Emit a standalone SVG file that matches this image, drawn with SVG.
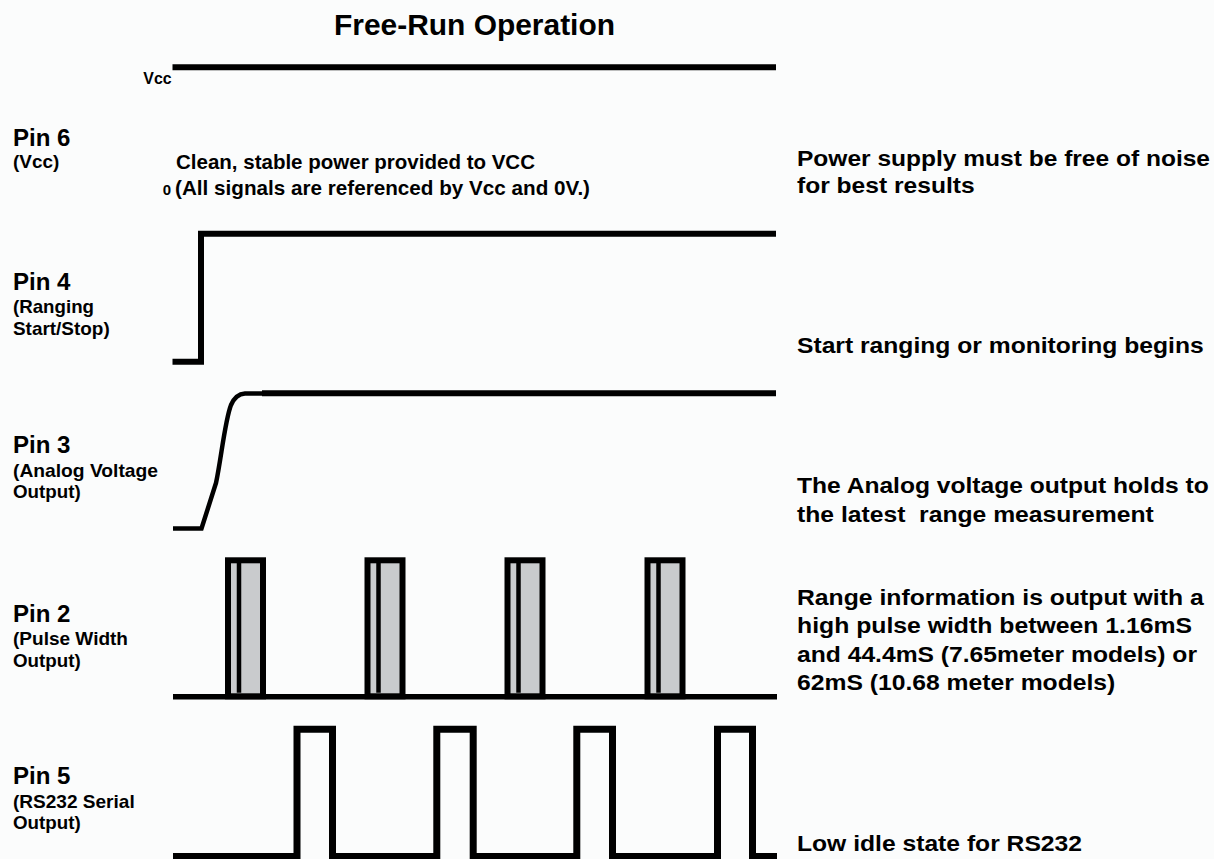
<svg xmlns="http://www.w3.org/2000/svg" width="1214" height="859" viewBox="0 0 1214 859">
<style>
text{font-family:"Liberation Sans",Arial,sans-serif;font-weight:bold;fill:#000}
.title{font-size:29px}
.pin{font-size:23px}
.sub{font-size:19px}
.note{font-size:22px}
.mid{font-size:20.5px}
.wave{fill:none;stroke:#000;stroke-width:6;stroke-linejoin:miter;stroke-linecap:butt}
.pulse{fill:#c9cbcd;stroke:#000;stroke-width:6}
.bar{stroke:#000;stroke-width:4.5}
</style>
<defs>
<g id="pw">
<rect class="pulse" x="3" y="3.3" width="35" height="136"/>
<line class="bar" x1="14" y1="6" x2="14" y2="135.7"/>
</g>
</defs>
<rect width="1214" height="859" fill="#fbfcfc"/>
<g id="title"><text class="title" x="334" y="34.5" textLength="281" lengthAdjust="spacingAndGlyphs">Free-Run Operation</text></g>

<g id="pin6">
<text class="pin" x="13" y="146" textLength="57.5" lengthAdjust="spacingAndGlyphs">Pin 6</text>
<text class="sub" x="13" y="168.3" textLength="46.3" lengthAdjust="spacingAndGlyphs">(Vcc)</text>
<text x="143.3" y="84.3" style="font-size:16px" textLength="28.3" lengthAdjust="spacingAndGlyphs">Vcc</text>
<text x="162.7" y="195" style="font-size:15px">0</text>
<text class="mid" x="176" y="169.3" textLength="359" lengthAdjust="spacingAndGlyphs">Clean, stable power provided to VCC</text>
<text class="mid" x="175" y="195" textLength="415" lengthAdjust="spacingAndGlyphs">(All signals are referenced by Vcc and 0V.)</text>
<text class="note" x="797" y="166" textLength="413" lengthAdjust="spacingAndGlyphs">Power supply must be free of noise</text>
<text class="note" x="797" y="193.3" textLength="177.6" lengthAdjust="spacingAndGlyphs">for best results</text>
</g>

<g id="pin4">
<text class="pin" x="13" y="290" textLength="57.5" lengthAdjust="spacingAndGlyphs">Pin 4</text>
<text class="sub" x="13" y="313.3" textLength="81" lengthAdjust="spacingAndGlyphs">(Ranging</text>
<text class="sub" x="13" y="335" textLength="96.7" lengthAdjust="spacingAndGlyphs">Start/Stop)</text>
<text class="note" x="797" y="353.3" textLength="406.7" lengthAdjust="spacingAndGlyphs">Start ranging or monitoring begins</text>
</g>

<g id="pin3">
<text class="pin" x="13" y="453.3" textLength="57.5" lengthAdjust="spacingAndGlyphs">Pin 3</text>
<text class="sub" x="13" y="476.7" textLength="145" lengthAdjust="spacingAndGlyphs">(Analog Voltage</text>
<text class="sub" x="13" y="498.3" textLength="67.7" lengthAdjust="spacingAndGlyphs">Output)</text>
<text class="note" x="797" y="493.3" textLength="411.7" lengthAdjust="spacingAndGlyphs">The Analog voltage output holds to</text>
<text class="note" x="797" y="521.7" textLength="356.7" lengthAdjust="spacingAndGlyphs" style="white-space:pre">the latest  range measurement</text>
</g>

<g id="pin2">
<text class="pin" x="13" y="621.7" textLength="57.5" lengthAdjust="spacingAndGlyphs">Pin 2</text>
<text class="sub" x="13" y="645" textLength="115" lengthAdjust="spacingAndGlyphs">(Pulse Width</text>
<text class="sub" x="13" y="666.7" textLength="67.7" lengthAdjust="spacingAndGlyphs">Output)</text>
<text class="note" x="797" y="605" textLength="406.7" lengthAdjust="spacingAndGlyphs">Range information is output with a</text>
<text class="note" x="797" y="633.3" textLength="395" lengthAdjust="spacingAndGlyphs">high pulse width between 1.16mS</text>
<text class="note" x="797" y="661.7" textLength="400" lengthAdjust="spacingAndGlyphs">and 44.4mS (7.65meter models) or</text>
<text class="note" x="797" y="690" textLength="318.3" lengthAdjust="spacingAndGlyphs">62mS (10.68 meter models)</text>
</g>

<g id="pin5">
<text class="pin" x="13" y="784.3" textLength="57.5" lengthAdjust="spacingAndGlyphs">Pin 5</text>
<text class="sub" x="13" y="807.7" textLength="121.7" lengthAdjust="spacingAndGlyphs">(RS232 Serial</text>
<text class="sub" x="13" y="829.3" textLength="67.7" lengthAdjust="spacingAndGlyphs">Output)</text>
<text class="note" x="797" y="851" textLength="285" lengthAdjust="spacingAndGlyphs">Low idle state for RS232</text>
</g>

<g id="connectors">
<line class="wave" x1="172.5" y1="67.3" x2="776" y2="67.3"/>
<path class="wave" d="M172.5,361.7 H201 V233.7 H776"/>
<path class="wave" style="stroke-width:4.5" d="M173,528.5 H201.5 L216,483 C221,460 225,420 231,405 C234,398 238,394 245,393.5 H263"/>
<line class="wave" x1="262" y1="393.3" x2="776" y2="393.3"/>
<use href="#pw" x="225" y="557"/>
<use href="#pw" x="364.5" y="557"/>
<use href="#pw" x="504.5" y="557"/>
<use href="#pw" x="644.5" y="557"/>
<line class="wave" style="stroke-width:5.5" x1="173" y1="696.8" x2="777" y2="696.8"/>
<path class="wave" style="stroke-width:7" d="M173,856.5 H297 V729.2 H332.5 V856.5 H436.8 V729.2 H473.2 V856.5 H576.8 V729.2 H612.5 V856.5 H717.5 V729.2 H752.5 V856.5 H777"/>
</g>
</svg>
